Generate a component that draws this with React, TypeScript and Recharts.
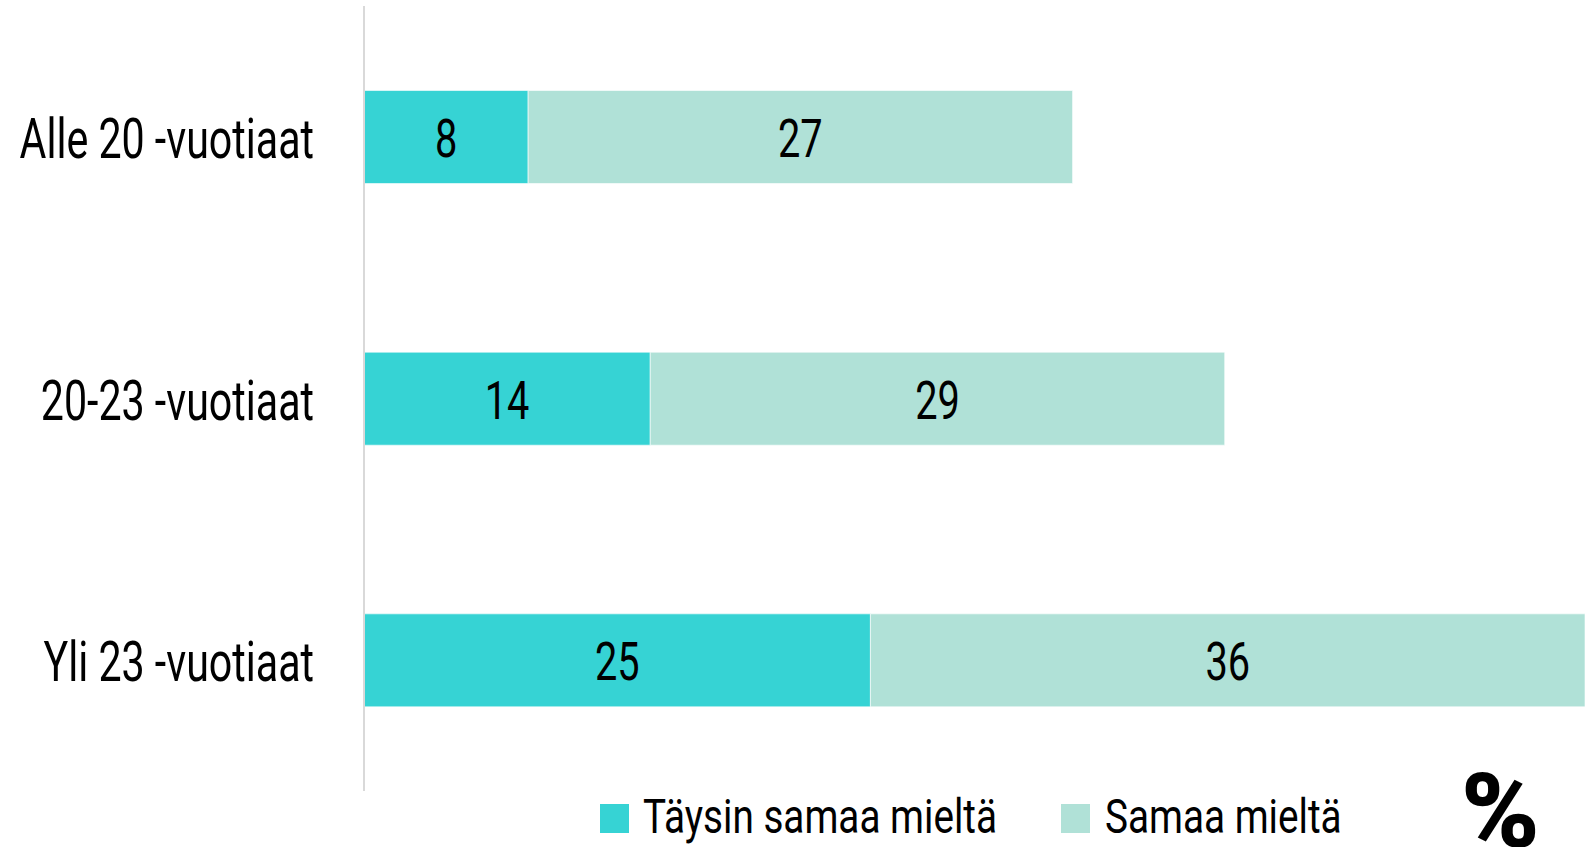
import React from 'react';
import { BarChart, Bar, XAxis, YAxis, LabelList } from 'recharts';

const categories = ['Alle 20 -vuotiaat', '20-23 -vuotiaat', 'Yli 23 -vuotiaat'];
const taysinValues = [8.2, 14.3, 25.3];
const samaaValues = [27.2, 28.7, 35.7];
const seriesNames = ['Täysin samaa mieltä', 'Samaa mieltä'];
const seriesColors = ['#36D3D4', '#B0E1D7'];
const unitLabel = '%';
const xDomain = [0, 61];

const data = categories.map((c, i) => ({
  category: c,
  taysin: taysinValues[i],
  samaa: samaaValues[i],
}));

const FONT = "Roboto, 'Noto Sans', sans-serif";

function CondText({ x, y, text, fontSize, sx, anchor = 'start', weight = 400 }: any) {
  return (
    <text
      transform={`translate(${x},${y}) scale(${sx},1)`}
      textAnchor={anchor}
      fontSize={fontSize}
      fontFamily={FONT}
      fontWeight={weight}
      fill="#000"
    >
      {text}
    </text>
  );
}

function YTick(props: any) {
  const { x, y, payload } = props;
  return <CondText x={x} y={y + 21} text={payload.value} fontSize={56} sx={0.735} anchor="end" />;
}

function BarValue(props: any) {
  const { x, y, width, height, value } = props;
  return (
    <CondText
      x={Number(x) + Number(width) / 2}
      y={Number(y) + Number(height) / 2 + 20}
      text={String(Math.round(Number(value)))}
      fontSize={53}
      sx={0.75}
      anchor="middle"
    />
  );
}

export default function App() {
  return (
    <div style={{ position: 'absolute', left: 0, top: 0, width: 1591, height: 847, background: '#fff' }}>
      <BarChart
        width={1591}
        height={847}
        data={data}
        layout="vertical"
        margin={{ top: 6, right: 6, bottom: 56, left: 0 }}
        barCategoryGap="32.3%"
      >
        <XAxis type="number" domain={xDomain} hide />
        <YAxis
          type="category"
          dataKey="category"
          width={364}
          axisLine={{ stroke: '#d9d9d9', strokeWidth: 2 }}
          tickLine={false}
          tickSize={0}
          tickMargin={50}
          tick={<YTick />}
        />
        <Bar dataKey="taysin" stackId="a" fill={seriesColors[0]} stroke="#ffffff" strokeOpacity={0.6} strokeWidth={1} isAnimationActive={false}>
          <LabelList dataKey="taysin" content={<BarValue />} />
        </Bar>
        <Bar dataKey="samaa" stackId="a" fill={seriesColors[1]} stroke="#ffffff" strokeOpacity={0.6} strokeWidth={1} isAnimationActive={false}>
          <LabelList dataKey="samaa" content={<BarValue />} />
        </Bar>
      </BarChart>
      <svg width={1591} height={847} style={{ position: 'absolute', left: 0, top: 0, pointerEvents: 'none' }}>
        <rect x={600} y={804} width={29} height={29} fill={seriesColors[0]} />
        <CondText x={643} y={833} text={seriesNames[0]} fontSize={49} sx={0.79} />
        <rect x={1061} y={804} width={29} height={29} fill={seriesColors[1]} />
        <CondText x={1105} y={833} text={seriesNames[1]} fontSize={49} sx={0.79} />
        <CondText x={1461} y={847} text={unitLabel} fontSize={104} sx={1.02} weight={900} />
      </svg>
    </div>
  );
}
